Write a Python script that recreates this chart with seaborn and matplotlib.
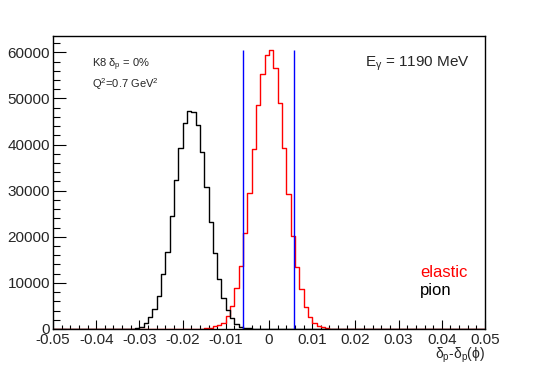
import numpy as np
import pandas as pd
import matplotlib
matplotlib.use('Agg')
import matplotlib.pyplot as plt
import seaborn as sns
from matplotlib.ticker import MultipleLocator, FixedLocator, FixedFormatter

# Histogram binning (100 bins over the x range)
x_range = (-0.05, 0.05)
bin_width = 0.001

# Elastic events: bin centres and counts
elastic_x = [-0.0165, -0.0155, -0.0145, -0.0135, -0.0125, -0.0115, -0.0105, -0.0095,
             -0.0085, -0.0075, -0.0065, -0.0055, -0.0045, -0.0035, -0.0025, -0.0015,
             -0.0005, 0.0005, 0.0015, 0.0025, 0.0035, 0.0045, 0.0055, 0.0065,
             0.0075, 0.0085, 0.0095, 0.0105, 0.0115, 0.0125, 0.0135, 0.0145,
             0.0155, 0.0165]
elastic_counts = [30, 60, 130, 280, 550, 900, 1400, 2800,
                  5000, 8800, 13750, 20770, 29460, 39090, 48500, 55370,
                  59500, 60590, 56600, 49000, 39230, 29300, 20270, 13530,
                  8600, 4850, 2700, 1370, 650, 370, 160, 80,
                  40, 20]

# Pion events: bin centres and counts
pion_x = [-0.0315, -0.0305, -0.0295, -0.0285, -0.0275, -0.0265, -0.0255, -0.0245,
          -0.0235, -0.0225, -0.0215, -0.0205, -0.0195, -0.0185, -0.0175, -0.0165,
          -0.0155, -0.0145, -0.0135, -0.0125, -0.0115, -0.0105, -0.0095, -0.0085,
          -0.0075, -0.0065, -0.0055, -0.0045, -0.0035, -0.0025]
pion_counts = [50, 150, 400, 1200, 2530, 4340, 7240, 11870,
               16790, 24540, 32360, 39230, 44660, 47340, 47120, 44300,
               38500, 30760, 23310, 16570, 10800, 6800, 4200, 2320,
               1090, 500, 280, 120, 50, 20]

# Cut positions (blue lines)
cuts = [-0.006, 0.0059]

x_ticks = [-0.05, -0.04, -0.03, -0.02, -0.01, 0, 0.01, 0.02, 0.03, 0.04, 0.05]
x_ticklabels = ['-0.05', '-0.04', '-0.03', '-0.02', '-0.01', '0',
                '0.01', '0.02', '0.03', '0.04', '0.05']
y_ticks = [0, 10000, 20000, 30000, 40000, 50000, 60000]
y_ticklabels = ['0', '10000', '20000', '30000', '40000', '50000', '60000']

sns.set_style('ticks')
plt.rcParams['font.family'] = ['Liberation Sans', 'DejaVu Sans']
plt.rcParams['mathtext.fontset'] = 'custom'
plt.rcParams['mathtext.rm'] = 'Liberation Sans'
plt.rcParams['mathtext.it'] = 'Liberation Sans'

W, H = 540, 366
fig = plt.figure(figsize=(W / 100, H / 100), dpi=100)
ax = fig.add_axes([53 / W, 1 - 329 / H, 432 / W, (329 - 35.7) / H])

df_el = pd.DataFrame({'x': elastic_x, 'n': elastic_counts})
df_pi = pd.DataFrame({'x': pion_x, 'n': pion_counts})

sns.histplot(data=df_el, x='x', weights='n', binwidth=bin_width, binrange=x_range,
             element='step', fill=False, color='red', linewidth=1, ax=ax)
sns.histplot(data=df_pi, x='x', weights='n', binwidth=bin_width, binrange=x_range,
             element='step', fill=False, color='black', linewidth=1, ax=ax)
ax.vlines(cuts, 0, max(elastic_counts), color='blue', linewidth=1)

ax.set_xlim(*x_range)
ax.set_ylim(0, max(elastic_counts) * 1.05)

# ROOT-like frame and ticks
for side in ['top', 'right', 'left', 'bottom']:
    ax.spines[side].set_visible(True)
    ax.spines[side].set_color('black')
    ax.spines[side].set_linewidth(1)
ax.xaxis.set_major_locator(FixedLocator(x_ticks))
ax.xaxis.set_major_formatter(FixedFormatter(x_ticklabels))
ax.xaxis.set_minor_locator(MultipleLocator(0.002))
ax.yaxis.set_major_locator(FixedLocator(y_ticks))
ax.yaxis.set_major_formatter(FixedFormatter(y_ticklabels))
ax.yaxis.set_minor_locator(MultipleLocator(2000))
ax.tick_params(axis='both', which='both', direction='in', top=False, right=False,
               labelsize=11, width=0.8, color='black')
ax.tick_params(axis='x', which='major', length=6.3, pad=3)
ax.tick_params(axis='x', which='minor', length=3.2)
ax.tick_params(axis='y', which='major', length=9.4, pad=2)
ax.tick_params(axis='y', which='minor', length=4.7)

ax.set_ylabel('')
ax.set_xlabel(r'δ$_\mathregular{p}$-δ$_\mathregular{p}$(ϕ)', loc='right',
              fontsize=10, labelpad=-1)

# Annotations
fig.text(92 / W, 1 - 67 / H, r'K8 δ$_\mathregular{p}$ = 0%', fontsize=8, ha='left', va='baseline')
fig.text(92 / W, 1 - 88 / H, r'Q$^\mathregular{2}$=0.7 GeV$^\mathregular{2}$', fontsize=8,
         ha='left', va='baseline')
fig.text(365 / W, 1 - 67 / H, r'E$_\mathregular{γ}$ = 1190 MeV', fontsize=11,
         ha='left', va='baseline')
fig.text(420 / W, 1 - 277 / H, 'elastic', color='red', fontsize=12, ha='left', va='baseline')
fig.text(420 / W, 1 - 295 / H, 'pion', color='black', fontsize=12, ha='left', va='baseline')

fig.savefig('out.png', dpi=100, facecolor='white')
